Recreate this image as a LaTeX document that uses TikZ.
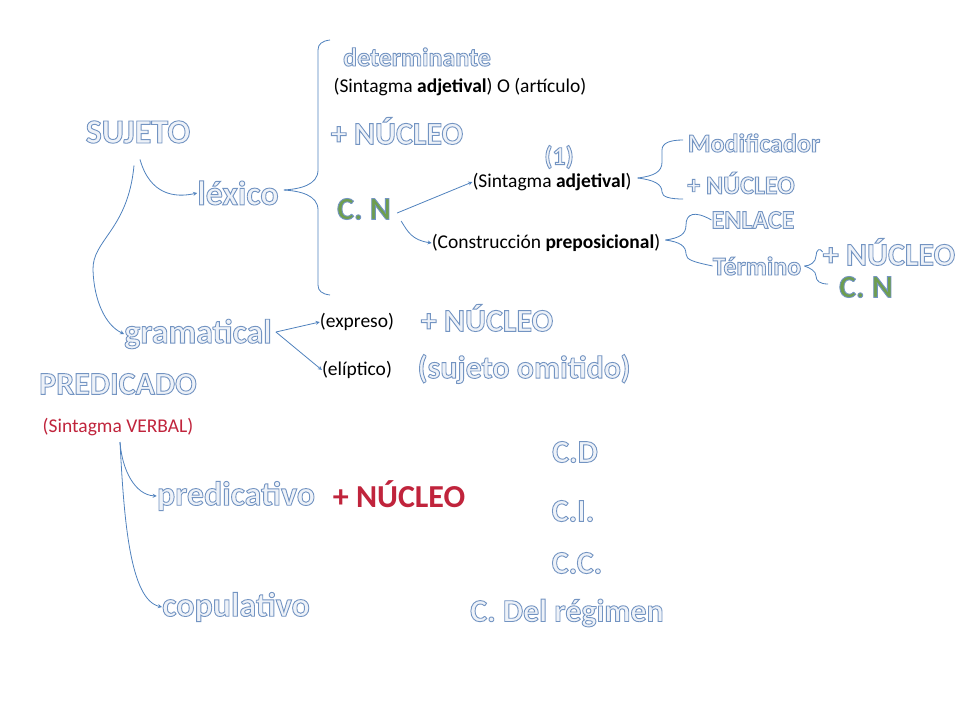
\documentclass[tikz,border=0pt]{standalone}
\usepackage{fontspec}
\setmainfont{Carlito}
\newcommand{\ol}[1]{\special{pdf:code 2 Tr 0.9 w 0.45 0.58 0.76 RG}#1\special{pdf:code 0 Tr}}
\definecolor{lc}{HTML}{4F81BD}
\definecolor{olf}{HTML}{EEF2F8}
\definecolor{gn}{HTML}{6E9E4E}
\definecolor{rd}{HTML}{C0243C}
\tikzset{
 big/.style={font=\fontsize{34}{36}\selectfont\bfseries,text=olf,inner sep=0pt},
 mid/.style={font=\fontsize{32}{34}\selectfont\bfseries,text=olf,inner sep=0pt},
 sm/.style={font=\fontsize{26}{28}\selectfont\bfseries,text=olf,inner sep=0pt},
 par/.style={font=\fontsize{19.5}{22}\selectfont,inner sep=0pt},
 ln/.style={draw=lc,line width=0.8pt},
 ar/.style={ln,->,>=stealth}
}
\begin{document}
\begin{tikzpicture}[x=1pt,y=-1pt]
\useasboundingbox (0,0) rectangle (960,720);
\node[sm] (det) at (417,57) {\ol{determinante}};
\node[par] (art) at (460,87) {(Sintagma \textbf{adjetival}) O (artículo)};
\node[big] (suj) at (138,132) {\ol{SUJETO}};
\node[mid] (n1) at (397,131) {\ol{+ NÚCLEO}};
\node[sm] (uno) at (559,157) {\ol{(1)}};
\node[sm] (mod) at (754,143) {\ol{Modificador}};
\node[sm] (n2) at (741,183) {\ol{+ NÚCLEO}};
\node[par] (sadj) at (552,182) {(Sintagma \textbf{adjetival})};
\node[big] (lex) at (238,193) {\ol{léxico}};
\node[mid,text=gn] (cn1) at (364,209) {\ol{C. N}};
\node[sm] (enl) at (753,220) {\ol{ENLACE}};
\node[par] (cp) at (546,243) {(Construcción \textbf{preposicional})};
\node[mid] (n3) at (889,252) {\ol{+ NÚCLEO}};
\node[sm] (ter) at (757,266) {\ol{Término}};
\node[mid,text=gn] (cn2) at (866,287) {\ol{C. N}};
\node[par] (exp) at (357,322) {(expreso)};
\node[mid] (n4) at (487,318) {\ol{+ NÚCLEO}};
\node[big] (gra) at (198,334) {\ol{gramatical}};
\node[par] (eli) at (357,370) {(elíptico)};
\node[mid] (som) at (524,369) {\ol{(sujeto omitido)}};
\node[mid] (pre) at (118,384) {\ol{PREDICADO}};
\node[par,text=rd] (sv) at (118,427) {(Sintagma VERBAL)};
\node[mid] (cd) at (575,452) {\ol{C.D}};
\node[big] (prd) at (236,496) {\ol{predicativo}};
\node[mid,text=rd] (n5) at (399,494) {+ NÚCLEO};
\node[mid] (ci) at (573,511) {\ol{C.I.}};
\node[mid] (cc) at (577,563) {\ol{C.C.}};
\node[big] (cop) at (236,607) {\ol{copulativo}};
\node[mid] (reg) at (567,613) {\ol{C. Del régimen}};
% connectors
\draw[ar] (suj.south) ++(2,16) coordinate (s1) .. controls (150,195) and (175,198) .. (lex.west);
\draw[ar] (suj.south) ++(-4,22) coordinate (s2) .. controls (128,230) and (92,240) .. (93,270) .. controls (94,300) and (105,325) .. (gra.west);
\draw[ln] (lex.east) ++(5,-3) coordinate (b0) .. controls (300,189) and (318,185) .. (318,170) -- (318,50) .. controls (318,44) and (322,41) .. (330,40);
\draw[ln] (b0) .. controls (300,191) and (318,195) .. (318,210) -- (318,285) .. controls (318,291) and (322,294) .. (330,295);
\draw[ar] (cn1.east) ++(6,4) -- (sadj.west);
\draw[ar] (cn1.east) ++(10,12) .. controls (408,232) and (412,240) .. (cp.west);
\draw[ln] (sadj.east) ++(6,-4) coordinate (b1) .. controls (654,176) and (662,172) .. (662,162) -- (662,150) .. controls (662,143) and (670,140) .. (683,140);
\draw[ln] (b1) .. controls (654,180) and (662,184) .. (662,192) .. controls (662,197) and (670,199) .. (683,199);
\draw[ln] (cp.east) ++(5,-3) coordinate (b2) .. controls (680,238) and (686,234) .. (686,225) .. controls (686,214) and (694,210) .. (enl.west);
\draw[ln] (b2) .. controls (680,242) and (686,246) .. (686,254) .. controls (686,260) and (694,262) .. (ter.west);
\draw[ln] (ter.east) ++(3,0) coordinate (b3) .. controls (810,266) and (816,262) .. (816,256) .. controls (816,250) and (820,247) .. (n3.west);
\draw[ln] (b3) .. controls (810,268) and (816,271) .. (816,276) .. controls (816,281) and (820,284) .. (828,284);
\draw[ar] (gra.east) ++(4,-2) -- (exp.west);
\draw[ar] (gra.east) ++(4,-2) -- (eli.west);
\draw[ar] (sv.south) ++(2,6) coordinate (p0) .. controls (122,470) and (135,495) .. (prd.west);
\draw[ar] (p0) .. controls (124,520) and (130,600) .. (cop.west);
\end{tikzpicture}
\end{document}
